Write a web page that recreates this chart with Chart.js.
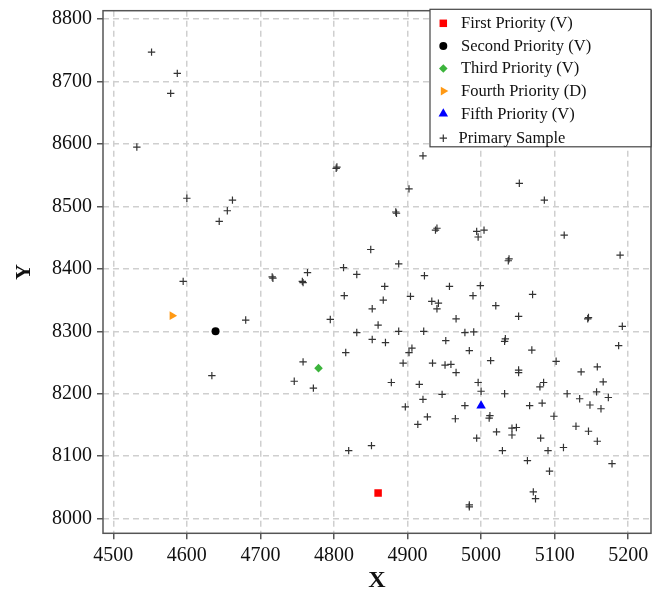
<!DOCTYPE html>
<html>
<head>
<meta charset="utf-8">
<script src="https://cdn.jsdelivr.net/npm/chart.js@4.4.1/dist/chart.umd.min.js"></script>
<style>
  html, body { margin: 0; padding: 0; background: #fff; }
  canvas { display: block; }
</style>
</head>
<body>
<canvas id="chart" width="661" height="594"></canvas>
<script>
// primary sample points
const sampleX = [
  4552, 4587, 4578, 4532, 4600, 4662, 4655, 4644, 4595, 4680, 4634, 4716, 4717, 4757, 4758, 4764,
  4758, 4746, 4772, 4921, 4803, 4804, 4902, 4884, 4885, 4940, 4938, 4850, 4888, 4813, 4831, 4923,
  4869, 4957, 4814, 4867, 4904, 4933, 4942, 4940, 4852, 4795, 4860, 4831, 4888, 4922, 4952, 4852,
  4870, 4816, 4906, 4902, 4894, 4934, 4951, 4878, 4916, 4947, 4921, 4897, 4927, 4914, 4851, 4820,
  5052, 5086, 4994, 5004, 4996, 5113, 5038, 5037, 5189, 4999, 4989, 5070, 5020, 4966, 5051, 5146,
  5145, 5192, 4978, 4990, 5033, 5032, 5187, 4984, 5069, 5013, 5102, 4959, 4966, 5051, 5051, 5136,
  5158, 4996, 5085, 5080, 5166, 5000, 5032, 5117, 5157, 5134, 5173, 4978, 5066, 5083, 5148, 5163,
  4965, 5012, 5011, 5099, 5048, 5042, 5042, 5129, 5146, 5021, 4994, 5081, 5158, 5029, 5091, 5112,
  5178, 5063, 5093, 5071, 5074, 4984, 4984
];
const sampleY = [
  8747, 8713, 8681, 8595, 8513, 8510, 8493, 8476, 8380, 8318, 8229, 8387, 8385, 8380, 8378, 8394,
  8251, 8220, 8209, 8581, 8561, 8563, 8528, 8491, 8489, 8465, 8462, 8431, 8408, 8402, 8391, 8389,
  8372, 8372, 8357, 8350, 8356, 8348, 8345, 8336, 8336, 8319, 8310, 8298, 8300, 8300, 8285, 8287,
  8282, 8266, 8273, 8266, 8249, 8249, 8246, 8218, 8215, 8199, 8191, 8179, 8163, 8151, 8117, 8109,
  8537, 8510, 8460, 8462, 8451, 8454, 8416, 8413, 8422, 8373, 8357, 8359, 8341, 8320, 8324, 8322,
  8320, 8308, 8298, 8299, 8288, 8284, 8277, 8269, 8270, 8253, 8252, 8247, 8234, 8238, 8234, 8235,
  8243, 8218, 8218, 8211, 8219, 8204, 8200, 8200, 8203, 8192, 8194, 8181, 8181, 8185, 8182, 8176,
  8160, 8165, 8161, 8164, 8146, 8145, 8134, 8148, 8140, 8139, 8129, 8129, 8124, 8109, 8109, 8114,
  8088, 8093, 8076, 8043, 8032, 8022, 8019
];

// the five priority points
const priorityLabels = ['First Priority (V)', 'Second Priority (V)', 'Third Priority (V)', 'Fourth Priority (D)', 'Fifth Priority (V)'];
const priorityX = [4860, 4639, 4779, 4580, 5000];
const priorityY = [8041, 8300, 8241, 8325, 8181];

const priorityStyle = [
  { color: '#ff0000', shape: 'rect', radius: 5.3, rotation: 0 },
  { color: '#000000', shape: 'circle', radius: 4, rotation: 0 },
  { color: '#3cb43c', shape: 'rectRot', radius: 4.3, rotation: 0 },
  { color: '#ff9914', shape: 'triangle', radius: 5, rotation: 90 },
  { color: '#0000ff', shape: 'triangle', radius: 5.5, rotation: 0 }
];

const serif = '"Liberation Serif", "Times New Roman", serif';

const datasets = priorityLabels.map((label, i) => ({
  label,
  data: [{ x: priorityX[i], y: priorityY[i] }],
  pointStyle: priorityStyle[i].shape,
  pointRadius: priorityStyle[i].radius,
  pointRotation: priorityStyle[i].rotation,
  backgroundColor: priorityStyle[i].color,
  borderColor: priorityStyle[i].color,
  borderWidth: 0
}));

datasets.push({
  label: 'Primary Sample',
  data: sampleX.map((x, i) => ({ x, y: sampleY[i] })),
  pointStyle: 'cross',
  pointRadius: 3.7,
  backgroundColor: '#333',
  borderColor: '#333',
  borderWidth: 1.2
});

// full box round the plot area
const frame = {
  id: 'frame',
  beforeDatasetsDraw(chart) {
    const { ctx, chartArea: a } = chart;
    ctx.save();
    ctx.strokeStyle = '#555';
    ctx.lineWidth = 1.5;
    ctx.strokeRect(a.left, a.top, a.right - a.left, a.bottom - a.top);
    ctx.restore();
  }
};

// boxed legend in the top right corner
const boxLegend = {
  id: 'boxLegend',
  afterDatasetsDraw(chart) {
    const { ctx, chartArea } = chart;
    const w = 221, h = 137.5;
    const left = chartArea.right - w;
    const top = chartArea.top - 1.4;
    ctx.save();
    ctx.fillStyle = '#fff';
    ctx.fillRect(left, top, w, h);
    ctx.strokeStyle = '#444';
    ctx.lineWidth = 1.2;
    ctx.strokeRect(left, top, w, h);
    ctx.font = '16.5px ' + serif;
    ctx.textBaseline = 'middle';
    chart.data.datasets.forEach((ds, i) => {
      const y = top + 14 + i * 22.6 + (i === 5 ? 1.9 : 0);
      const mx = left + 13.3;
      ctx.fillStyle = ds.backgroundColor;
      ctx.strokeStyle = ds.borderColor;
      ctx.lineWidth = ds.borderWidth;
      if (Chart.helpers && Chart.helpers.drawPoint) {
        Chart.helpers.drawPoint(ctx, {
          pointStyle: ds.pointStyle,
          rotation: ds.pointRotation || 0,
          radius: ds.pointRadius,
          borderWidth: ds.borderWidth
        }, mx, y);
      }
      ctx.fillStyle = '#111';
      ctx.fillText(ds.label, left + (ds.pointStyle === 'cross' ? 28.6 : 31), y + 0.5);
    });
    ctx.restore();
  }
};

function noPad(scale) {
  scale.paddingLeft = 0;
  scale.paddingRight = 0;
  scale.paddingTop = 0;
  scale.paddingBottom = 0;
}

const plainNumber = (v) => String(v);

new Chart(document.getElementById('chart'), {
  type: 'scatter',
  data: { datasets },
  options: {
    responsive: false,
    animation: false,
    events: [],
    devicePixelRatio: 1,
    layout: { padding: { top: 10.7, right: 10, bottom: 0, left: 0 } },
    plugins: {
      legend: { display: false },
      tooltip: { enabled: false }
    },
    scales: {
      x: {
        type: 'linear',
        min: 4486,
        max: 5231,
        afterFit(scale) { scale.height = 60.7; noPad(scale); },
        ticks: {
          stepSize: 100,
          includeBounds: false,
          padding: 4,
          color: '#111',
          font: { family: serif, size: 20 },
          maxRotation: 0,
          callback: plainNumber
        },
        grid: {
          color: '#cfcfcf',
          lineWidth: 1.5,
          tickLength: 6,
          tickColor: '#555',
          tickWidth: 1.5,
          tickBorderDash: []
        },
        border: { display: false, dash: [6, 4] },
        title: {
          display: true,
          text: 'X',
          color: '#111',
          font: { family: serif, size: 24, weight: 'bold', lineHeight: 1 },
          padding: { top: 0, bottom: 1 }
        }
      },
      y: {
        type: 'linear',
        min: 7976.6,
        max: 8813.3,
        afterFit(scale) { scale.width = 103; noPad(scale); },
        ticks: {
          stepSize: 100,
          includeBounds: false,
          padding: 5,
          color: '#111',
          font: { family: serif, size: 20 },
          callback: plainNumber
        },
        grid: {
          color: '#cfcfcf',
          lineWidth: 1.5,
          tickLength: 6,
          tickColor: '#555',
          tickWidth: 1.5,
          tickBorderDash: []
        },
        border: { display: false, dash: [6, 4] },
        title: {
          display: true,
          text: 'Y',
          color: '#111',
          font: { family: serif, size: 22, weight: 'bold', lineHeight: 1 },
          padding: { top: 13.5, bottom: 0 }
        }
      }
    }
  },
  plugins: [frame, boxLegend]
});
</script>
</body>
</html>
